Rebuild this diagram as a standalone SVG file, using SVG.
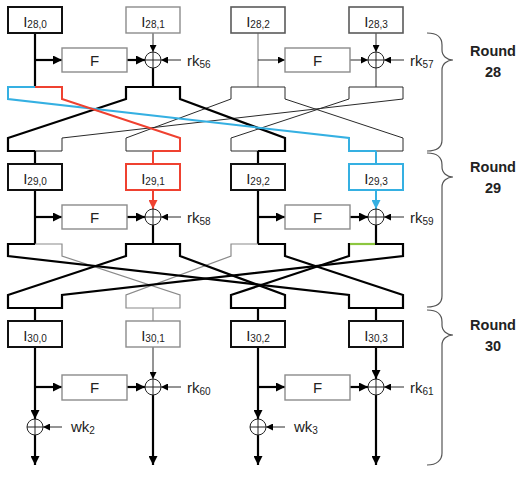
<svg xmlns="http://www.w3.org/2000/svg" width="523" height="482" viewBox="0 0 523 482">
<defs>
<marker id="ab" viewBox="0 0 10 10" refX="10" refY="5" markerWidth="9" markerHeight="9" markerUnits="userSpaceOnUse" orient="auto"><path d="M0,0L10,5L0,10z" fill="#000"/></marker>
<marker id="as" viewBox="0 0 10 10" refX="10" refY="5" markerWidth="7" markerHeight="7" markerUnits="userSpaceOnUse" orient="auto"><path d="M0,0L10,5L0,10z" fill="#000"/></marker>
<marker id="ar" viewBox="0 0 10 10" refX="10" refY="5" markerWidth="9" markerHeight="9" markerUnits="userSpaceOnUse" orient="auto"><path d="M0,0L10,5L0,10z" fill="#ef4130"/></marker>
<marker id="abl" viewBox="0 0 10 10" refX="10" refY="5" markerWidth="9" markerHeight="9" markerUnits="userSpaceOnUse" orient="auto"><path d="M0,0L10,5L0,10z" fill="#35b0e2"/></marker>
<g id="xor"><circle r="8" fill="#fff" stroke="#222" stroke-width="1"/><path d="M-8,0H8M0,-8V8" stroke="#222" stroke-width="1"/></g>
</defs>
<style>
text{font-family:"Liberation Sans",Arial,sans-serif;fill:#222}
.lbl{font-size:15px;text-anchor:middle}
.sub{font-size:10px}
.key{font-size:15px}
.rnd{font-size:14.5px;font-weight:bold;text-anchor:middle}
rect{fill:#fff}
.bk{stroke:#111;stroke-width:2}
.gb{stroke:#8c8c8c;stroke-width:1.4}
.db{stroke:#5a5a5a;stroke-width:1.6}
.rb{stroke:#ef4130;stroke-width:2}
.bb{stroke:#35b0e2;stroke-width:2}
.th{stroke:#000;stroke-width:2.2;fill:none}
.tn{stroke:#2a2a2a;stroke-width:1;fill:none}
.gl{stroke:#8a8a8a;stroke-width:1.2;fill:none}
.rd{stroke:#ef4130;stroke-width:2;fill:none}
.bl{stroke:#35b0e2;stroke-width:2;fill:none}
.gn{stroke:#8cc63f;stroke-width:2.2;fill:none}
.br{stroke:#555;stroke-width:1.2;fill:none}
</style>
<rect x="0" y="0" width="523" height="482" fill="#fff"/>

<g id="connectors">
<!-- Round 28 -->
<path class="th" d="M35,33V87"/>
<path class="th" d="M35,60H62" marker-end="url(#ab)"/>
<path class="th" d="M127,60H145" marker-end="url(#ab)"/>
<path class="tn" d="M153,33V52" marker-end="url(#as)"/>
<path class="th" d="M153,68V87"/>
<path class="gl" d="M258,33V87"/>
<path class="tn" d="M258,60H285" marker-end="url(#as)"/>
<path class="tn" d="M350,60H368" marker-end="url(#as)"/>
<path class="tn" d="M376,33V52" marker-end="url(#as)"/>
<path class="tn" d="M376,68V87"/>
<path class="tn" d="M181,60H161" marker-end="url(#as)"/>
<path class="tn" d="M404,60H384" marker-end="url(#as)"/>
<!-- crossing 28 -->
<path class="tn" d="M258,87H231V99L126,138V151H153"/>
<path class="tn" d="M258,87H285V99L403,138V151H376"/>
<path class="tn" d="M376,87H349V99L231,138V151H258"/>
<path class="tn" d="M376,87H403V99L62,138V151H35"/>
<path class="th" d="M153,87H126V99L8,138V151H35"/>
<path class="th" d="M153,87H180V99L285,138V151H258"/>
<path class="bl" d="M35,87H8V99L349,138V151H376"/>
<path class="rd" d="M35,87H62V99L180,138V151H153"/>
<path class="th" d="M35,151V164"/>
<path class="rd" d="M153,151V164"/>
<path class="th" d="M258,151V164"/>
<path class="bl" d="M376,151V164"/>
<!-- Round 29 -->
<path class="th" d="M35,190V244"/>
<path class="th" d="M35,217H62" marker-end="url(#ab)"/>
<path class="th" d="M127,217H145" marker-end="url(#ab)"/>
<path class="rd" d="M153,190V209" marker-end="url(#ar)"/>
<path class="th" d="M153,225V244"/>
<path class="th" d="M258,190V244"/>
<path class="th" d="M258,217H285" marker-end="url(#ab)"/>
<path class="th" d="M350,217H368" marker-end="url(#ab)"/>
<path class="bl" d="M376,190V209" marker-end="url(#abl)"/>
<path class="th" d="M376,225V244"/>
<path class="tn" d="M181,217H161" marker-end="url(#as)"/>
<path class="tn" d="M404,217H384" marker-end="url(#as)"/>
<!-- crossing 29 -->
<path class="gl" d="M35,244H62V256L180,295V308H153"/>
<path class="gl" d="M258,244H231V256L126,295V308H153"/>
<path class="th" d="M35,244H8V256L349,295V308H376"/>
<path class="th" d="M153,244H126V256L8,295V308H35"/>
<path class="th" d="M153,244H180V256L285,295V308H258"/>
<path class="th" d="M258,244H285V256L403,295V308H376"/>
<path class="th" d="M376,244H349V256L231,295V308H258"/>
<path class="th" d="M376,244H403V256L62,295V308H35"/>
<path class="gn" d="M375,244H350"/>
<path class="th" d="M35,308V321"/>
<path class="gl" d="M153,308V321"/>
<path class="th" d="M258,308V321"/>
<path class="th" d="M376,308V321"/>
<!-- Round 30 -->
<path class="th" d="M35,347V419" marker-end="url(#ab)"/>
<path class="th" d="M35,387H62" marker-end="url(#ab)"/>
<path class="th" d="M127,387H145" marker-end="url(#ab)"/>
<path class="th" d="M35,435V465" marker-end="url(#ab)"/>
<path class="tn" d="M62,427H43" marker-end="url(#as)"/>
<path class="tn" d="M153,347V379" marker-end="url(#as)"/>
<path class="th" d="M153,395V465" marker-end="url(#ab)"/>
<path class="th" d="M258,347V419" marker-end="url(#ab)"/>
<path class="th" d="M258,387H285" marker-end="url(#ab)"/>
<path class="th" d="M350,387H368" marker-end="url(#ab)"/>
<path class="th" d="M258,435V465" marker-end="url(#ab)"/>
<path class="tn" d="M285,427H266" marker-end="url(#as)"/>
<path class="th" d="M376,347V379" marker-end="url(#ab)"/>
<path class="th" d="M376,395V465" marker-end="url(#ab)"/>
<path class="tn" d="M181,387H161" marker-end="url(#as)"/>
<path class="tn" d="M404,387H384" marker-end="url(#as)"/>
</g>

<!-- Round 28 nodes -->
<g id="I28_0"><rect class="bk" x="8" y="7" width="54" height="26"/><text class="lbl" x="35" y="27">I<tspan class="sub" dy="1">28,0</tspan></text></g>
<g id="I28_1"><rect class="gb" x="126" y="7" width="54" height="26"/><text class="lbl" x="153" y="27">I<tspan class="sub" dy="1">28,1</tspan></text></g>
<g id="I28_2"><rect class="db" x="231" y="7" width="54" height="26"/><text class="lbl" x="258" y="27">I<tspan class="sub" dy="1">28,2</tspan></text></g>
<g id="I28_3"><rect class="db" x="349" y="7" width="54" height="26"/><text class="lbl" x="376" y="27">I<tspan class="sub" dy="1">28,3</tspan></text></g>
<g id="F28_0"><rect class="gb" x="62" y="48" width="65" height="24"/><text class="lbl" x="94.5" y="65.5">F</text></g>
<g id="F28_2"><rect class="gb" x="285" y="48" width="65" height="24"/><text class="lbl" x="317.5" y="65.5">F</text></g>
<g id="X28_1"><use href="#xor" x="153" y="60"/></g>
<g id="X28_3"><use href="#xor" x="376" y="60"/></g>
<g id="rk56"><text class="key" x="187" y="66">rk<tspan class="sub" dy="2">56</tspan></text></g>
<g id="rk57"><text class="key" x="410" y="66">rk<tspan class="sub" dy="2">57</tspan></text></g>

<!-- Round 29 nodes -->
<g id="I29_0"><rect class="bk" x="8" y="164" width="54" height="26"/><text class="lbl" x="35" y="184">I<tspan class="sub" dy="1">29,0</tspan></text></g>
<g id="I29_1"><rect class="rb" x="126" y="164" width="54" height="26"/><text class="lbl" x="153" y="184">I<tspan class="sub" dy="1">29,1</tspan></text></g>
<g id="I29_2"><rect class="bk" x="231" y="164" width="54" height="26"/><text class="lbl" x="258" y="184">I<tspan class="sub" dy="1">29,2</tspan></text></g>
<g id="I29_3"><rect class="bb" x="349" y="164" width="54" height="26"/><text class="lbl" x="376" y="184">I<tspan class="sub" dy="1">29,3</tspan></text></g>
<g id="F29_0"><rect class="gb" x="62" y="205" width="65" height="24"/><text class="lbl" x="94.5" y="222.5">F</text></g>
<g id="F29_2"><rect class="gb" x="285" y="205" width="65" height="24"/><text class="lbl" x="317.5" y="222.5">F</text></g>
<g id="X29_1"><use href="#xor" x="153" y="217"/></g>
<g id="X29_3"><use href="#xor" x="376" y="217"/></g>
<g id="rk58"><text class="key" x="187" y="223">rk<tspan class="sub" dy="2">58</tspan></text></g>
<g id="rk59"><text class="key" x="410" y="223">rk<tspan class="sub" dy="2">59</tspan></text></g>

<!-- Round 30 nodes -->
<g id="I30_0"><rect class="bk" x="8" y="321" width="54" height="26"/><text class="lbl" x="35" y="341">I<tspan class="sub" dy="1">30,0</tspan></text></g>
<g id="I30_1"><rect class="gb" x="126" y="321" width="54" height="26"/><text class="lbl" x="153" y="341">I<tspan class="sub" dy="1">30,1</tspan></text></g>
<g id="I30_2"><rect class="bk" x="231" y="321" width="54" height="26"/><text class="lbl" x="258" y="341">I<tspan class="sub" dy="1">30,2</tspan></text></g>
<g id="I30_3"><rect class="bk" x="349" y="321" width="54" height="26"/><text class="lbl" x="376" y="341">I<tspan class="sub" dy="1">30,3</tspan></text></g>
<g id="F30_0"><rect class="gb" x="62" y="375" width="65" height="25"/><text class="lbl" x="94.5" y="393">F</text></g>
<g id="F30_2"><rect class="gb" x="285" y="375" width="65" height="25"/><text class="lbl" x="317.5" y="393">F</text></g>
<g id="X30_1"><use href="#xor" x="153" y="387"/></g>
<g id="X30_3"><use href="#xor" x="376" y="387"/></g>
<g id="W30_0"><use href="#xor" x="35" y="427"/></g>
<g id="W30_2"><use href="#xor" x="258" y="427"/></g>
<g id="rk60"><text class="key" x="187" y="393">rk<tspan class="sub" dy="2">60</tspan></text></g>
<g id="rk61"><text class="key" x="410" y="393">rk<tspan class="sub" dy="2">61</tspan></text></g>
<g id="wk2"><text class="key" x="71" y="432">wk<tspan class="sub" dy="2">2</tspan></text></g>
<g id="wk3"><text class="key" x="294" y="432">wk<tspan class="sub" dy="2">3</tspan></text></g>

<!-- Braces and round labels -->
<g id="round28"><path class="br" d="M427,33C437,33 442,37 442,45L442,50C442,56 447,60 453,60C447,60 442,64 442,70L442,140C442,147 437,151 427,151"/><text class="rnd" x="493" y="56">Round</text><text class="rnd" x="493" y="77">28</text></g>
<g id="round29"><path class="br" d="M427,153C437,153 442,157 442,165L442,167C442,173 447,177 453,177C447,177 442,181 442,187L442,296C442,303 437,307 427,307"/><text class="rnd" x="493" y="172">Round</text><text class="rnd" x="493" y="193">29</text></g>
<g id="round30"><path class="br" d="M427,310C437,310 442,314 442,322L442,325C442,331 447,335 453,335C447,335 442,339 442,345L442,453C442,460 437,465 427,465"/><text class="rnd" x="493" y="330">Round</text><text class="rnd" x="493" y="351">30</text></g>
</svg>
